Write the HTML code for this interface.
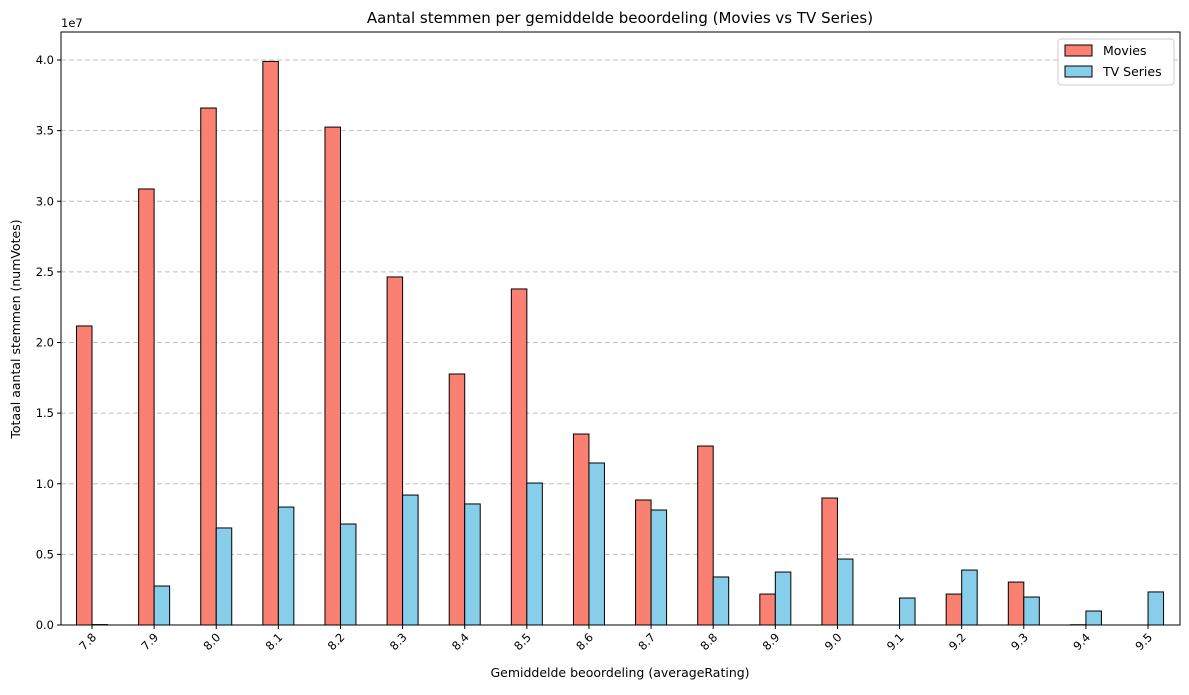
<!DOCTYPE html>
<html><head><meta charset="utf-8"><style>
body{margin:0;background:#fff;font-family:"Liberation Sans","DejaVu Sans",sans-serif;}
svg text{font-family:"DejaVu Sans","Liberation Sans",sans-serif;}
</style></head><body>
<svg id="c" width="1189" height="690" xmlns="http://www.w3.org/2000/svg"></svg>
<script>
const categories=["7.8","7.9","8.0","8.1","8.2","8.3","8.4","8.5","8.6","8.7","8.8","8.9","9.0","9.1","9.2","9.3","9.4","9.5"];
const movies=[2.117,3.087,3.66,3.99,3.525,2.464,1.777,2.379,1.352,0.885,1.267,0.219,0.899,0,0.219,0.304,0.002,0];
const tv=[0.003,0.276,0.687,0.835,0.715,0.92,0.857,1.005,1.147,0.814,0.34,0.375,0.467,0.191,0.389,0.198,0.099,0.234];
const yTicks=[0,0.5,1.0,1.5,2.0,2.5,3.0,3.5,4.0];
const L=61,R=1180,T=32,B=625;
const x0=92,step=62.12,bw=15.5;
const xs=i=>x0+i*step;
const ys=v=>B-v*141.25;
const svg=document.getElementById('c');const NS="http://www.w3.org/2000/svg";
function mk(t,a,txt){const e=document.createElementNS(NS,t);for(const k in a)e.setAttribute(k,a[k]);if(txt!==undefined)e.textContent=txt;svg.appendChild(e);return e;}
yTicks.forEach(v=>{
 if(v>0){const g=mk('line',{x1:L,x2:R,y1:ys(v),y2:ys(v),stroke:'#c0c0c0','stroke-dasharray':'5,3'});
 
 }
 const tk=mk('line',{x1:L-4,x2:L,y1:ys(v),y2:ys(v),stroke:'#000'});
 
 
 const t=mk('text',{x:L-7,y:ys(v)+4,'text-anchor':'end','font-size':11.5},v.toFixed(1));
 
 
});
categories.forEach((c,i)=>{
 const m=mk('rect',{x:xs(i)-bw,y:ys(movies[i]),width:bw,height:B-ys(movies[i]),fill:'#fa8072',stroke:'#000','stroke-width':1});
 
 
 const s=mk('rect',{x:xs(i),y:ys(tv[i]),width:bw,height:B-ys(tv[i]),fill:'#87ceeb',stroke:'#000','stroke-width':1});
 
 
 const tk=mk('line',{x1:xs(i),x2:xs(i),y1:B,y2:B+4,stroke:'#000'});
 
 
 const t=mk('text',{x:xs(i)+5,y:B+13,'text-anchor':'end','font-size':11.5,transform:`rotate(-45 ${xs(i)+5} ${B+13})`},c);
 
 
});
</script>
<svg width="1189" height="690" style="position:absolute;left:0;top:0" xmlns="http://www.w3.org/2000/svg">
<rect x="61" y="32" width="1119" height="593" fill="none" stroke="#000"/>
<text x="620" y="23" text-anchor="middle" font-size="15">Aantal stemmen per gemiddelde beoordeling (Movies vs TV Series)</text>
<text x="61" y="27" font-size="11.5">1e7</text>
<text x="620" y="677" text-anchor="middle" font-size="12.5">Gemiddelde beoordeling (averageRating)</text>
<text transform="translate(20 329) rotate(-90)" text-anchor="middle" font-size="12.5">Totaal aantal stemmen (numVotes)</text>
<g>
<rect x="1058" y="39" width="116" height="46" fill="#fff" stroke="#ccc" rx="3"/>
<rect x="1065" y="45" width="27" height="11" fill="#fa8072" stroke="#000"/>
<text x="1103" y="55" font-size="12.5">Movies</text>
<rect x="1065" y="66" width="27" height="11" fill="#87ceeb" stroke="#000"/>
<text x="1103" y="76" font-size="12.5">TV Series</text>
</g>
</svg>
</body></html>
